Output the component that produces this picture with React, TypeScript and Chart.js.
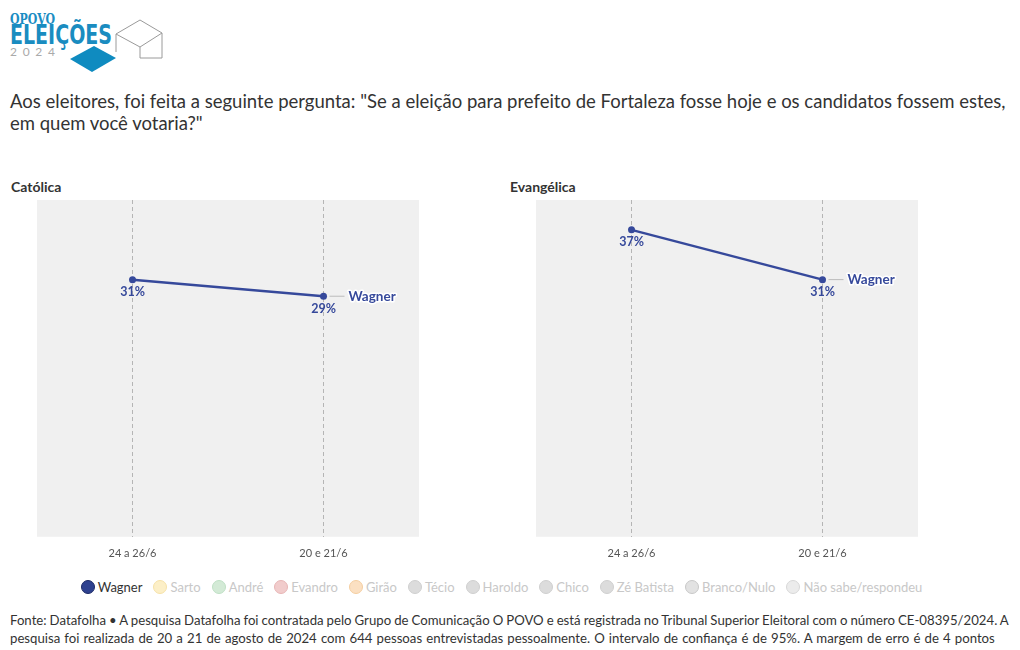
import React, { useEffect, useRef } from "react";
import { Chart, registerables } from "chart.js";

Chart.register(...registerables);

const FONT = "Lato, 'Noto Sans', sans-serif";

const dates = ["24 a 26/6", "20 e 21/6"];
const catolicaWagner = [31, 29];
const evangelicaWagner = [37, 31];
const panelTitles = ["Católica", "Evangélica"];
const seriesName = "Wagner";
const legendNames = ["Wagner", "Sarto", "André", "Evandro", "Girão", "Técio", "Haroldo", "Chico", "Zé Batista", "Branco/Nulo", "Não sabe/respondeu"];
const legendFills = ["#2e418f", "#fcefc7", "#d3ead6", "#f1cccc", "#fbe0c2", "#dcdcdc", "#dcdcdc", "#dcdcdc", "#dcdcdc", "#e2e2e2", "#ececec"];
const legendBorders = ["#1c2a66", "#f6e2a8", "#bfe0c5", "#e8b6b6", "#f5cea0", "#cfcfcf", "#cfcfcf", "#cfcfcf", "#cfcfcf", "#c8c8c8", "#d8d8d8"];

const LINE = "#36499b";

const titleLines = [
  'Aos eleitores, foi feita a seguinte pergunta: "Se a eleição para prefeito de Fortaleza fosse hoje e os candidatos fossem estes,',
  'em quem você votaria?"',
];
const footerLines = [
  "Fonte: Datafolha • A pesquisa Datafolha foi contratada pelo Grupo de Comunicação O POVO e está registrada no Tribunal Superior Eleitoral com o número CE-08395/2024. A",
  "pesquisa foi realizada de 20 a 21 de agosto de 2024 com 644 pessoas entrevistadas pessoalmente. O intervalo de confiança é de 95%. A margem de erro é de 4 pontos",
];
const footerWordSpacing = [-0.35, 0.75];

const bgPlugin = {
  id: "bgPlugin",
  beforeDraw(chart: any) {
    const { ctx, chartArea } = chart;
    ctx.save();
    ctx.fillStyle = "#f0f0f0";
    ctx.fillRect(chartArea.left, chartArea.top, chartArea.right - chartArea.left, chartArea.bottom - chartArea.top);
    ctx.restore();
  },
};

const labelPlugin = {
  id: "labelPlugin",
  afterDatasetsDraw(chart: any) {
    const { ctx } = chart;
    const meta = chart.getDatasetMeta(0);
    const ds = chart.data.datasets[0];
    ctx.save();
    meta.data.forEach((pt: any, i: number) => {
      ctx.font = `bold 12.5px ${FONT}`;
      ctx.textAlign = "center";
      ctx.textBaseline = "middle";
      ctx.fillStyle = LINE;
      ctx.fillText(`${ds.data[i]}%`, pt.x, pt.y + 12.5);
    });
    const last = meta.data[meta.data.length - 1];
    ctx.strokeStyle = "#bbbbbb";
    ctx.lineWidth = 1;
    ctx.beginPath();
    ctx.moveTo(last.x + 6, last.y);
    ctx.lineTo(last.x + 21, last.y);
    ctx.stroke();
    ctx.font = `bold 13.5px ${FONT}`;
    ctx.textAlign = "left";
    ctx.textBaseline = "middle";
    ctx.lineWidth = 3;
    ctx.strokeStyle = "#ffffff";
    ctx.lineJoin = "round";
    ctx.strokeText(ds.label, last.x + 25, last.y);
    ctx.fillStyle = LINE;
    ctx.fillText(ds.label, last.x + 25, last.y);
    ctx.restore();
  },
};

function Panel({ values, left }: { values: number[]; left: number }) {
  const ref = useRef<HTMLCanvasElement>(null);
  useEffect(() => {
    const chart = new Chart(ref.current!, {
      type: "line",
      data: {
        labels: dates,
        datasets: [
          {
            label: seriesName,
            data: values,
            borderColor: LINE,
            backgroundColor: LINE,
            borderWidth: 2.5,
            pointRadius: 3.5,
            pointBackgroundColor: LINE,
            pointBorderWidth: 0,
            tension: 0,
          },
        ],
      },
      options: {
        animation: false,
        responsive: false,
        maintainAspectRatio: false,
        devicePixelRatio: 1,
        layout: { padding: 0, autoPadding: false },
        plugins: { legend: { display: false }, tooltip: { enabled: false } },
        scales: {
          x: {
            type: "category",
            offset: true,
            grid: { color: "#b5b5b5", drawTicks: false, lineWidth: 1 },
            border: { display: false, dash: [4, 3] },
            ticks: { color: "#555", font: { size: 11, family: FONT }, padding: 10 },
          },
          y: { display: false, min: 0, max: 40.6 },
        },
      },
      plugins: [bgPlugin, labelPlugin],
    });
    return () => chart.destroy();
  }, []);
  return (
    <canvas
      ref={ref}
      width={382}
      height={370}
      style={{ position: "absolute", left, top: 200, width: 382, height: 370 }}
    />
  );
}

function Logo() {
  return (
    <svg width={180} height={80} style={{ position: "absolute", left: 0, top: 0 }}>
      <text x={10} y={24} fontFamily="'DejaVu Serif', serif" fontWeight="bold" fontSize={14} fill="#1b8dc3" textLength={45} lengthAdjust="spacingAndGlyphs">OPOVO</text>
      <text x={10} y={44} fontFamily="'DejaVu Sans Condensed', 'DejaVu Sans', sans-serif" fontWeight="bold" fontSize={26} fill="#1a8cc0" textLength={102} lengthAdjust="spacingAndGlyphs">ELEIÇÕES</text>
      <text x={10} y={56} fontFamily={FONT} fontSize={12} fill="#aaaaaa" textLength={45} lengthAdjust="spacing">2024</text>
      <polygon points="70,59 94,46 116,58 92,72" fill="#0f8bc0" />
      <g fill="none" stroke="#9a9a9a" strokeWidth={1}>
        <polyline points="116,34 140,20 162,33 162,58 140,58" />
        <polyline points="116,34 140,47 162,33" />
        <line x1={116} y1={34} x2={116} y2={52} />
        <line x1={140} y1={47} x2={140} y2={58} />
      </g>
    </svg>
  );
}

export default function App() {
  return (
    <div style={{ position: "absolute", left: 0, top: 0, width: 1020, height: 650, background: "#fff", fontFamily: FONT, color: "#333" }}>
      <Logo />
      <div style={{ position: "absolute", left: 10, top: 90, fontSize: 18.5, lineHeight: "22px", whiteSpace: "nowrap" }}>
        {titleLines.map((l, i) => (
          <div key={i}>{l}</div>
        ))}
      </div>
      <div style={{ position: "absolute", left: 11, top: 178, fontSize: 14, fontWeight: "bold" }}>{panelTitles[0]}</div>
      <div style={{ position: "absolute", left: 510, top: 178, fontSize: 14, fontWeight: "bold" }}>{panelTitles[1]}</div>
      <Panel values={catolicaWagner} left={37} />
      <Panel values={evangelicaWagner} left={536} />
      <div style={{ position: "absolute", left: 0, width: 1014, top: 579, display: "flex", justifyContent: "center", fontSize: 13 }}>
        {legendNames.map((n, i) => (
          <div key={n} style={{ display: "flex", alignItems: "center", marginRight: 11 }}>
            <span style={{ display: "inline-block", width: 12, height: 12, borderRadius: "50%", background: legendFills[i], border: `1px solid ${legendBorders[i]}`, marginRight: 3 }} />
            <span style={{ color: i === 0 ? "#333" : "#c8c8c8" }}>{n}</span>
          </div>
        ))}
      </div>
      <div style={{ position: "absolute", left: 10, top: 611, fontSize: 13.2, lineHeight: "18px", whiteSpace: "nowrap", color: "#333" }}>
        {footerLines.map((l, i) => (
          <div key={i} style={{ wordSpacing: footerWordSpacing[i] }}>{l}</div>
        ))}
      </div>
    </div>
  );
}
